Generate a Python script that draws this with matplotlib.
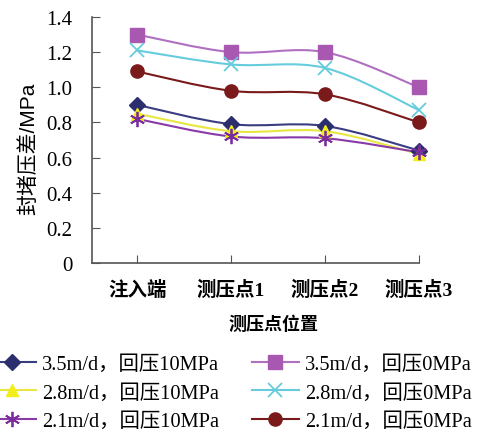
import matplotlib
matplotlib.use("Agg")
import matplotlib.pyplot as plt
import numpy as np
from matplotlib.path import Path
from matplotlib.patches import PathPatch
from matplotlib.lines import Line2D

plt.rcParams['font.family'] = ['Liberation Serif', 'Noto Sans CJK SC']

positions = ["注入端", "测压点1", "测压点2", "测压点3"]

# 回压 10MPa
v35_10 = [0.90, 0.79, 0.78, 0.64]
v28_10 = [0.85, 0.75, 0.75, 0.62]
v21_10 = [0.82, 0.72, 0.71, 0.63]
# 回压 0MPa
v35_0 = [1.30, 1.20, 1.20, 1.00]
v28_0 = [1.21, 1.13, 1.11, 0.87]
v21_0 = [1.09, 0.98, 0.96, 0.80]

labels = ["3.5m/d，回压10MPa", "2.8m/d，回压10MPa", "2.1m/d，回压10MPa",
          "3.5m/d，回压0MPa", "2.8m/d，回压0MPa", "2.1m/d，回压0MPa"]


def smooth_path(x, y):
    # Catmull-Rom style bezier through the points (like spreadsheet "smoothed line")
    pts = np.column_stack([x, y]).astype(float)
    n = len(pts)
    verts = [pts[0]]
    codes = [Path.MOVETO]
    for i in range(n - 1):
        p0 = pts[i - 1] if i > 0 else pts[i]
        p1 = pts[i]
        p2 = pts[i + 1]
        p3 = pts[i + 2] if i + 2 < n else pts[i + 1]
        c1 = p1 + (p2 - p0) / 6.0
        c2 = p2 - (p3 - p1) / 6.0
        verts += [c1, c2, p2]
        codes += [Path.CURVE4] * 3
    return Path(verts, codes)


fig = plt.figure(figsize=(4.84, 4.35), dpi=100)
ax = fig.add_axes([92 / 484, 1 - 264 / 435, (419 - 92) / 484, (264 - 18) / 435])

x = np.arange(len(positions))
series = [
    (v35_10, "#2b2f6e", "#3a3d80", "D", 8, "#2b2f6e"),
    (v28_10, "#f2ee1a", "#e8e640", "^", 9, "#f2ee1a"),
    (v21_10, "#7a2d9c", "#8a3aa8", (6, 2, 0), 11, "#7a2d9c"),
    (v35_0, "#a858b0", "#b070c0", "s", 10, "#a858b0"),
    (v28_0, "#66ccdd", "#66ccdd", "x", 10, "#66ccdd"),
    (v21_0, "#7a1a1a", "#7a1a1a", "o", 9.5, "#7a1a1a"),
]

handles = []
for (vals, mc, lc, mk, ms, ec), lab in zip(series, labels):
    ax.add_patch(PathPatch(smooth_path(x, vals), facecolor="none", edgecolor=lc,
                           lw=1.5, clip_on=False, zorder=2))
    lw_m = 1.3 if mk in ("x", (6, 2, 0)) else 1
    ax.plot(x, vals, ls="none", marker=mk, ms=ms, color=mc, mec=ec,
            mew=lw_m, clip_on=False, zorder=3)
    handles.append(Line2D([], [], color=lc, lw=1.5, marker=mk, ms=ms,
                          mfc=mc, mec=ec, mew=lw_m))

ax.set_xlim(-0.48, 3.0)
ax.set_ylim(0, 1.4)
ax.set_yticks(np.arange(0, 1.41, 0.2))
ax.set_yticklabels(["0"] + ["%.1f" % v for v in np.arange(0.2, 1.41, 0.2)])
ax.set_xticks(x)
ax.set_xticklabels(positions, fontsize=14, fontweight="bold")
ax.tick_params(axis="y", direction="in", length=6, labelsize=15, pad=14, color="#555555")
ax.tick_params(axis="x", direction="in", length=6, pad=12, color="#555555")
for s in ("top", "right"):
    ax.spines[s].set_visible(False)
for s in ("left", "bottom"):
    ax.spines[s].set_color("#555555")
    ax.spines[s].set_linewidth(1.2)

ax.set_ylabel("封堵压差/MPa", fontsize=15,
              family=['Liberation Sans', 'Noto Sans CJK SC'])
ax.yaxis.set_label_coords(-0.165, 0.47)
ax.set_xlabel("测压点位置", fontsize=13, fontweight="bold")
ax.xaxis.set_label_coords(0.555, -0.215)

fig.legend(handles=handles, labels=labels, ncol=2, loc="upper left",
           bbox_to_anchor=(-11 / 484, 1 - 356 / 435), frameon=False,
           prop={"size": 14.7}, borderpad=0, borderaxespad=0,
           handlelength=2.3, columnspacing=1.6, handletextpad=0.3,
           labelspacing=0.44)

fig.savefig("out.png", dpi=100)
